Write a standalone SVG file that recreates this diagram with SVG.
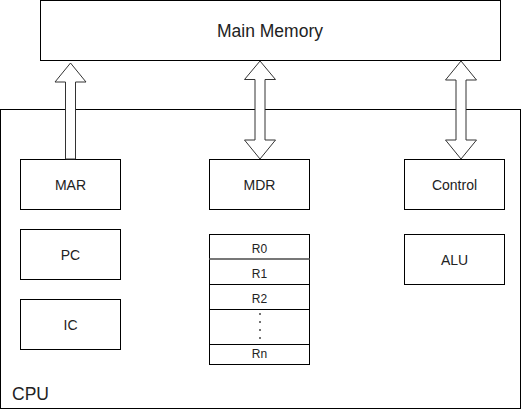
<svg xmlns="http://www.w3.org/2000/svg" width="521" height="410" viewBox="0 0 521 410">
<style>
.box{fill:#fff;stroke:#000;stroke-width:1}
.t{font-family:"Liberation Sans",Arial,sans-serif;fill:#222;text-anchor:middle}
.s{font-size:14px}
.r{font-size:12px}
.arrow{fill:#fff;stroke:#333;stroke-width:1;stroke-linejoin:miter}
</style>
<rect width="521" height="410" fill="#fff"/>
<g id="cpu">
<rect class="box" x="0.5" y="109.5" width="520" height="299"/>
<text class="t" x="12" y="400" font-size="17.5" style="text-anchor:start">CPU</text>
</g>
<g id="main-memory">
<rect class="box" x="40.5" y="0.5" width="460" height="60"/>
<text class="t" x="270" y="36.5" font-size="17.5">Main Memory</text>
</g>
<g id="mar">
<rect class="box" x="20.5" y="159.5" width="100" height="50"/>
<text class="t s" x="70.5" y="189.5">MAR</text>
</g>
<g id="pc">
<rect class="box" x="20.5" y="229.5" width="100" height="50"/>
<text class="t s" x="70.5" y="259.5">PC</text>
</g>
<g id="ic">
<rect class="box" x="20.5" y="299.5" width="100" height="50"/>
<text class="t s" x="70.5" y="329.5">IC</text>
</g>
<g id="mdr">
<rect class="box" x="209.5" y="159.5" width="100" height="50"/>
<text class="t s" x="259.5" y="189.5">MDR</text>
</g>
<g id="control">
<rect class="box" x="404.5" y="159.5" width="100" height="50"/>
<text class="t s" x="454.5" y="189.5">Control</text>
</g>
<g id="alu">
<rect class="box" x="404.5" y="234.5" width="100" height="50"/>
<text class="t s" x="454.5" y="264.5">ALU</text>
</g>
<g id="registers">
<rect class="box" x="209.5" y="234.5" width="100" height="130"/>
<line x1="209.5" y1="259" x2="309.5" y2="259" stroke="#777" stroke-width="2"/>
<line x1="209.5" y1="284.5" x2="309.5" y2="284.5" stroke="#000"/>
<line x1="209.5" y1="309.5" x2="309.5" y2="309.5" stroke="#000"/>
<line x1="209.5" y1="344.5" x2="309.5" y2="344.5" stroke="#000"/>
<text class="t r" x="259.5" y="253">R0</text>
<text class="t r" x="259.5" y="277.5">R1</text>
<text class="t r" x="259.5" y="302.5">R2</text>
<text class="t r" x="259.5" y="357.5">Rn</text>
<g fill="#444">
<circle cx="260" cy="314" r="1"/>
<circle cx="260" cy="322" r="1"/>
<circle cx="260" cy="330" r="1"/>
<circle cx="260" cy="338" r="1"/>
</g>
</g>
<g id="connectors">
<polygon class="arrow" points="70.5,63 86,82 75.5,82 75.5,159 65.5,159 65.5,82 55,82"/>
<polygon class="arrow" points="260,61 275.5,79.5 265,79.5 265,140 275.5,140 260,159 244.5,140 255,140 255,79.5 244.5,79.5"/>
<polygon class="arrow" points="461,61 476.5,80 466,80 466,140 476.5,140 461,159 445.5,140 456,140 456,80 445.5,80"/>
</g>
</svg>
